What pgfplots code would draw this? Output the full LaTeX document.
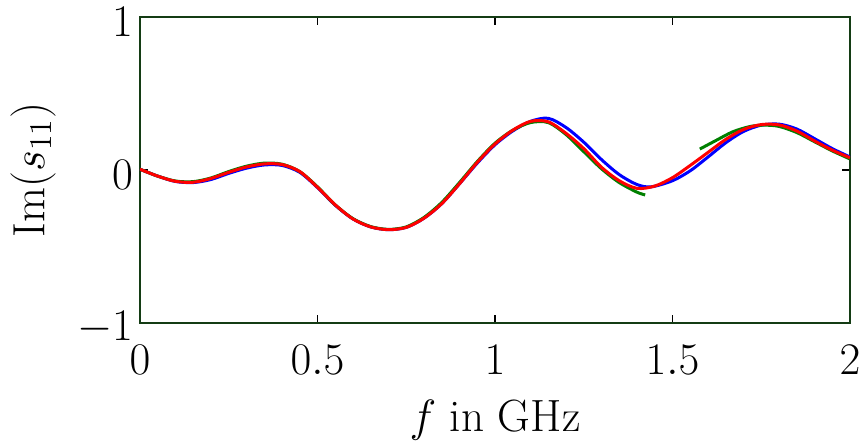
\RequirePackage{fix-cm}
\documentclass[border=0pt]{standalone}
\usepackage{pgfplots}
\pgfplotsset{compat=1.18}
\definecolor{mygreen}{RGB}{0,128,0}
\definecolor{axcol}{RGB}{20,60,20}
\begin{document}
\begin{tikzpicture}
\begin{axis}[
  scale only axis,
  width=355pt, height=153pt,
  xmin=0, xmax=2, ymin=-1, ymax=1,
  xtick={0,0.5,1,1.5,2}, ytick={-1,0,1},
  font=\fontsize{22.6}{27}\selectfont,
  axis line style={axcol, line width=1pt},
  major tick length=4pt,
  tick style={black, line width=0.8pt},
  xticklabel style={yshift=-7.5pt},
  yticklabel style={yshift=-2.5pt},
  xlabel={$f$ in GHz},
  ylabel={$\mathrm{Im}(s_{11})$},
  xlabel style={at={(axis description cs:0.5,0)}, anchor=north, yshift=-35pt},
  ylabel style={at={([xshift=-53.5pt]axis description cs:0,0.5)}, anchor=center},
  every axis plot/.append style={line width=1.5pt, smooth, no marks},
]
% blue
\addplot[blue] coordinates {
(0,0.005) (0.05,-0.04) (0.1,-0.075) (0.15,-0.082) (0.2,-0.062) (0.25,-0.022)
(0.3,0.012) (0.35,0.033) (0.4,0.03) (0.45,-0.015) (0.5,-0.115)
(0.55,-0.23) (0.6,-0.32) (0.65,-0.372) (0.7,-0.39) (0.75,-0.375) (0.8,-0.315)
(0.85,-0.22) (0.9,-0.09) (0.95,0.045) (1.0,0.165) (1.05,0.255) (1.1,0.318)
(1.15,0.338) (1.2,0.278) (1.25,0.182) (1.3,0.068) (1.35,-0.03)
(1.4,-0.095) (1.44,-0.11) (1.5,-0.07) (1.55,-0.005)
(1.6,0.085) (1.65,0.178) (1.7,0.252) (1.75,0.293) (1.8,0.3)
(1.85,0.268) (1.9,0.205) (1.95,0.14) (2.0,0.085)
};
% green, first segment
\addplot[mygreen] coordinates {
(0,0.005) (0.05,-0.04) (0.1,-0.072) (0.15,-0.076) (0.2,-0.052) (0.25,-0.01)
(0.3,0.025) (0.35,0.045) (0.4,0.038) (0.45,-0.01) (0.5,-0.11)
(0.55,-0.228) (0.6,-0.318) (0.65,-0.37) (0.7,-0.388) (0.75,-0.372) (0.8,-0.31)
(0.85,-0.212) (0.9,-0.082) (0.95,0.055) (1.0,0.175) (1.05,0.26) (1.1,0.31)
(1.15,0.31) (1.2,0.232) (1.25,0.12) (1.3,0.008) (1.35,-0.082)
(1.4,-0.145) (1.423,-0.163)
};
% green, second segment
\addplot[mygreen] coordinates {
(1.577,0.137) (1.62,0.19) (1.67,0.25) (1.72,0.285) (1.76,0.293) (1.8,0.285)
(1.85,0.245) (1.9,0.185) (1.95,0.125) (2.0,0.072)
};
% red
\addplot[red] coordinates {
(0,0.005) (0.05,-0.04) (0.1,-0.074) (0.15,-0.08) (0.2,-0.055) (0.25,-0.015)
(0.3,0.02) (0.35,0.04) (0.4,0.036) (0.45,-0.01) (0.5,-0.113)
(0.55,-0.228) (0.6,-0.32) (0.65,-0.372) (0.7,-0.39) (0.75,-0.375) (0.8,-0.315)
(0.85,-0.22) (0.9,-0.09) (0.95,0.05) (1.0,0.17) (1.05,0.26) (1.1,0.318)
(1.15,0.315) (1.2,0.24) (1.25,0.14) (1.3,0.018) (1.35,-0.07)
(1.4,-0.12) (1.45,-0.105) (1.5,-0.05) (1.55,0.03)
(1.6,0.115) (1.65,0.2) (1.7,0.265) (1.75,0.297) (1.8,0.295)
(1.85,0.255) (1.9,0.19) (1.95,0.13) (2.0,0.08)
};
\end{axis}
\pgfresetboundingbox
\path[use as bounding box] (-70pt,-59pt) rectangle (361pt,161.5pt);
\end{tikzpicture}
\end{document}
